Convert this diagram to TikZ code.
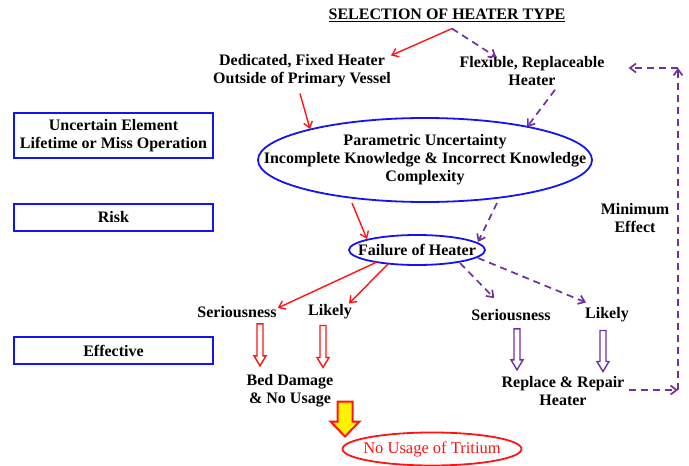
\documentclass[tikz,border=0pt]{standalone}
\usepackage{fontspec}
\setmainfont{Liberation Serif}
\usetikzlibrary{shapes.geometric,arrows.meta,calc}
\definecolor{rd}{RGB}{255,20,20}
\definecolor{pu}{RGB}{112,48,160}
\definecolor{bl}{RGB}{20,20,240}
\newcommand\hollowarr[3]{% style, start point, length
  \draw[#1] #2 ++(-3,0) -- ++(6,0) -- ++(0,#3-10) -- ++(3,0) -- ++(-6,10) -- ++(-6,-10) -- ++(3,0) -- cycle;}
\begin{document}
\begin{tikzpicture}[x=1pt,y=-1pt,
  txt/.style={font=\fontsize{16}{18}\selectfont\bfseries, align=center, inner sep=0pt},
  lbox/.style={draw=bl, line width=1.8pt, minimum width=199pt, inner sep=0pt, txt},
  ell/.style={draw=bl, line width=1.8pt, ellipse, inner sep=0pt},
  ra/.style={draw=rd, line width=1.4pt, -{Straight Barb[length=6pt,width=9pt]}},
  pa/.style={draw=pu, line width=1.7pt, dash pattern=on 7pt off 5pt, -{Straight Barb[length=6pt,width=9pt]}},
  rdbl/.style={draw=rd, fill=white, line width=1.4pt, line join=miter},
  pdbl/.style={draw=pu, fill=white, line width=1.4pt, line join=miter}]
\useasboundingbox (0,0) rectangle (689,466);
\fill[white] (0,0) rectangle (689,466);

\node[txt] (title) at (447,15) {\underline{SELECTION OF HEATER TYPE}};
\node[txt] (ded) at (302,71) {Dedicated, Fixed Heater\\Outside of Primary Vessel};
\node[txt] (flex) at (532,71) {Flexible, Replaceable\\Heater};

\node[lbox, minimum height=45pt] (b1) at (113.5,135.5) {Uncertain Element\\Lifetime or Miss Operation};
\node[lbox, minimum height=27pt] (b2) at (113.5,217.5) {Risk};
\node[lbox, minimum height=27pt] (b3) at (113.5,350.5) {Effective};

\node[ell, minimum width=334pt, minimum height=84pt] (param) at (425,160) {};
\node[txt] (paramtxt) at (param) {Parametric Uncertainty\\Incomplete Knowledge \& Incorrect Knowledge\\Complexity};

\node[ell, minimum width=136pt, minimum height=30pt] (fail) at (417,250) {};
\node[txt] (failtxt) at (fail) {Failure of Heater};

\node[txt] (me) at (635,218) {Minimum\\Effect};

\node[txt] (s1) at (237,312) {Seriousness};
\node[txt] (l1) at (330,312) {Likely};
\node[txt] (s2) at (511,315) {Seriousness};
\node[txt] (l2) at (607,315) {Likely};

\node[txt] (bed) at (290,391) {Bed Damage\\\& No Usage};
\node[txt] (rep) at (563,391) {Replace \& Repair\\Heater};

\node[draw=rd, line width=1.8pt, ellipse, minimum width=179pt, minimum height=33pt, inner sep=0pt] (nut) at (432,449) {};
\node[txt, text=rd, font=\fontsize{16.5}{18}\selectfont] (nuttxt) at (nut) {No Usage of Tritium};

% top arrows
\draw[ra] ($(title.south)+(5,7)$) -- ($(ded.north east)+(0,1)$);
\draw[pa] ($(title.south)+(5,7)$) -- ($(flex.north west)+(37,1)$);
\draw[ra] ($(ded.south)+(-2,6)$) -- ($(param)+(-115,-31)$);
\draw[pa] ($(flex.south)+(23,4)$) -- ($(param)+(102,-33)$);
\draw[ra] ($(param)+(-73,43)$) -- ($(fail)+(-50,-11)$);
\draw[pa] ($(param)+(72,43)$) -- ($(fail)+(61,-8)$);

% failure to consequences
\draw[ra] ($(fail)+(-40,12)$) -- ($(s1.east)+(1,-4)$);
\draw[ra] ($(fail)+(-29,14)$) -- ($(l1.north east)+(-3,-1)$);
\draw[pa] ($(fail)+(43,13)$) -- ($(s2.north west)+(23,-11)$);
\draw[pa] ($(fail)+(61,8)$) -- ($(l2.north west)+(1,-5)$);

% hollow block arrows
\hollowarr{rdbl}{($(s1.south)+(23,6)$)}{42}
\hollowarr{rdbl}{($(l1.south)+(-7,6)$)}{42}
\hollowarr{pdbl}{($(s2.south)+(6,8)$)}{41}
\hollowarr{pdbl}{($(l2.south)+(-4,8)$)}{41}

% yellow block arrow
\draw[draw=rd, fill=yellow, line width=2pt, line join=miter]
  ($(bed.south)+(47.5,-6)$) -- ++(15,0) -- ++(0,20) -- ++(7,0) -- ++(-14.5,15) -- ++(-14.5,-15) -- ++(7,0) -- cycle;

% feedback loop
\coordinate (c1) at (678,390);
\coordinate (c2) at (678,68);
\draw[pa] ($(rep.east)+(4,-1)$) -- (c1);
\draw[pa] (c1) -- (c2);
\draw[pa] (c2) -- ($(flex.east)+(24,-3)$);
\end{tikzpicture}
\end{document}
